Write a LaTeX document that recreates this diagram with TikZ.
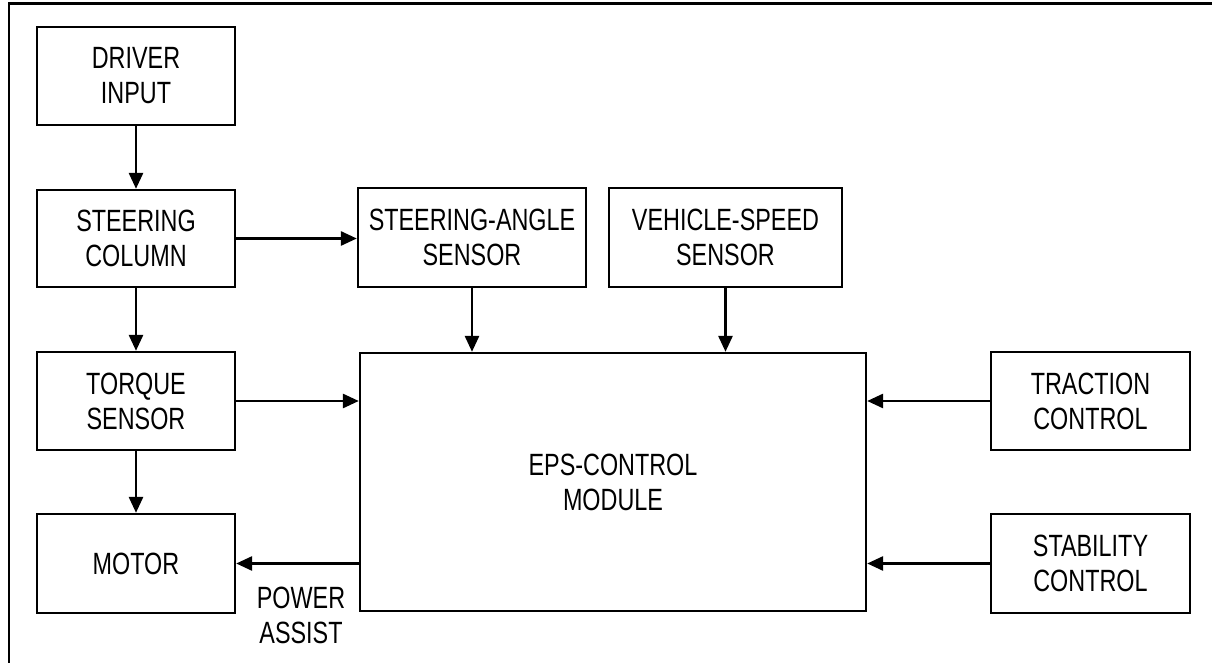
\documentclass[tikz,border=0pt]{standalone}
\usepackage{fontspec}
\setmainfont[FakeStretch=0.76]{Liberation Sans}
\usetikzlibrary{arrows.meta}

\tikzset{
  blk/.style={draw, line width=1.4pt, inner sep=0pt, align=center,
    font=\fontsize{17.5}{20}\selectfont},
  flow/.style={line width=1.3pt, -{Triangle[length=9pt,width=8pt]}},
}

\begin{document}
\begin{tikzpicture}

\useasboundingbox (0,0) rectangle (24.24,-13.26);

% ===== Khung ngoai =====
\draw[line width=1.3pt] (0.18,-13.26) -- (0.18,-0.07) -- (24.24,-0.07);

% ===== Cot trai =====
\node[blk, minimum width=3.96cm, minimum height=1.96cm] (driver) at (2.72,-1.52) {DRIVER\\INPUT};
\node[blk, minimum width=3.96cm, minimum height=1.94cm] (column) at (2.72,-4.77) {STEERING\\COLUMN};
\node[blk, minimum width=3.96cm, minimum height=1.96cm] (torque) at (2.72,-8.02) {TORQUE\\SENSOR};
\node[blk, minimum width=3.96cm, minimum height=1.98cm] (motor) at (2.72,-11.27) {MOTOR};

% ===== Cam bien tren =====
\node[blk, minimum width=4.56cm, minimum height=1.98cm] (angle) at (9.44,-4.75) {STEERING-ANGLE\\SENSOR};
\node[blk, minimum width=4.66cm, minimum height=1.98cm] (speed) at (14.51,-4.75) {VEHICLE-SPEED\\SENSOR};

% ===== Khoi dieu khien =====
\node[blk, minimum width=10.12cm, minimum height=5.16cm] (eps) at (12.26,-9.64) {EPS-CONTROL\\MODULE};

% ===== Cot phai =====
\node[blk, minimum width=3.98cm, minimum height=1.96cm] (traction) at (21.81,-8.02) {TRACTION\\CONTROL};
\node[blk, minimum width=3.98cm, minimum height=1.98cm] (stability) at (21.81,-11.27) {STABILITY\\CONTROL};

\node[align=center, inner sep=0pt, font=\fontsize{17.5}{20}\selectfont] (assist) at (6.02,-12.3) {POWER\\ASSIST};

% ===== Mui ten =====
\draw[flow] (driver) -- (column);
\draw[flow] (column) -- (torque);
\draw[flow] (torque) -- (motor);
\draw[flow] (column.east) -- (angle.west |- column.east);
\draw[flow] (angle.south) -- (angle.south |- eps.north);
\draw[flow] (speed.south) -- (speed.south |- eps.north);
\draw[flow] (torque.east) -- (eps.west |- torque.east);
\draw[flow] (eps.west |- motor.east) -- (motor.east);
\draw[flow] (traction.west) -- (eps.east |- traction.west);
\draw[flow] (stability.west) -- (eps.east |- stability.west);

\end{tikzpicture}
\end{document}
